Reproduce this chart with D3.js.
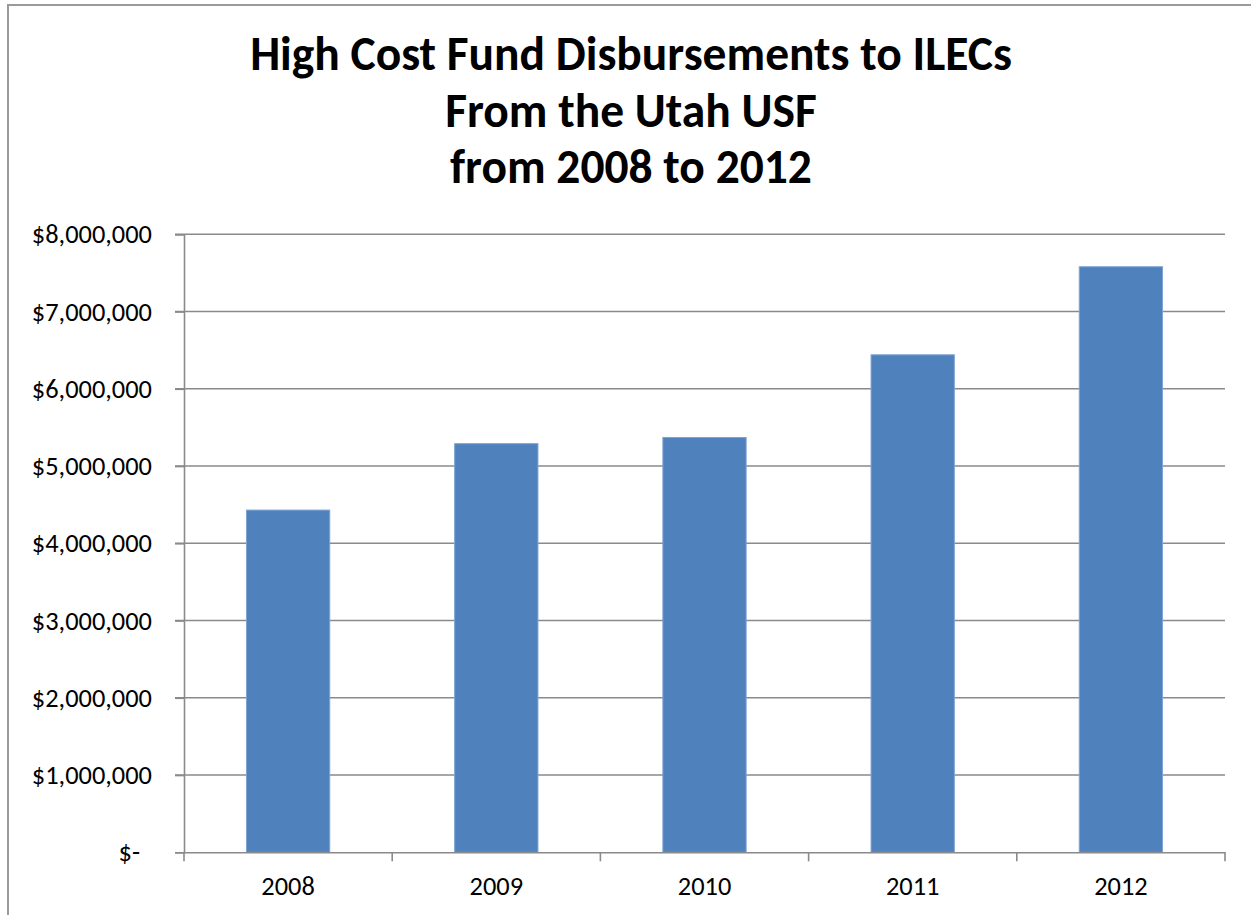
<!DOCTYPE html>
<html>
<head>
<meta charset="utf-8">
<script src="https://cdn.jsdelivr.net/npm/d3@7"></script>
<style>
  html, body { margin: 0; padding: 0; background: #fff; }
  svg { display: block; }
</style>
</head>
<body>
<svg id="chart" width="1251" height="915"></svg>
<script>
const titleLines = ["High Cost Fund Disbursements to ILECs", "From the Utah USF", "from 2008 to 2012"];
const categories = ["2008", "2009", "2010", "2011", "2012"];
const values = [4430000, 5290000, 5370000, 6440000, 7580000];
const yTicks = [0, 1000000, 2000000, 3000000, 4000000, 5000000, 6000000, 7000000, 8000000];

const svg = d3.select("#chart");
const W = 1251, H = 915;
const m = { left: 184, right: 1225, top: 234.3, bottom: 852.3 };
const font = "Carlito, Lato, 'Open Sans', sans-serif";

svg.append("rect").attr("width", W).attr("height", H).attr("fill", "#fff");
// outer chart border
svg.append("rect")
  .attr("x", 8).attr("y", 5).attr("width", W + 20).attr("height", H + 20)
  .attr("fill", "none").attr("stroke", "#9a9a9a").attr("stroke-width", 2);

const x = d3.scaleBand().domain(categories).range([m.left, m.right]).paddingInner(0.6).paddingOuter(0.3);
const y = d3.scaleLinear().domain([0, 8000000]).range([m.bottom, m.top]);

// gridlines
svg.append("g").selectAll("line").data(yTicks.filter(d => d > 0)).join("line")
  .attr("x1", m.left - 9).attr("x2", m.right)
  .attr("y1", d => y(d)).attr("y2", d => y(d))
  .attr("stroke", "#8a8a8a").attr("stroke-width", 1.6);

// bars
svg.append("g").selectAll("rect").data(values).join("rect")
  .attr("x", (d, i) => x(categories[i]))
  .attr("y", d => y(d))
  .attr("width", x.bandwidth())
  .attr("height", d => y(0) - y(d))
  .attr("fill", "#4f81bd")
  .attr("stroke", "#7ea3d3").attr("stroke-width", 1);

// y axis
const fmt = d => d === 0 ? "$-" : "$" + d3.format(",")(d);
const yAxis = svg.append("g").attr("transform", `translate(${m.left},0)`)
  .call(d3.axisLeft(y).tickValues(yTicks).tickFormat(fmt).tickSize(9).tickPadding(23));
yAxis.select(".domain").attr("stroke", "#8a8a8a").attr("stroke-width", 1.6);
yAxis.selectAll(".tick line").attr("stroke", "#8a8a8a").attr("stroke-width", 1.6);
yAxis.selectAll(".tick text")
  .attr("font-family", font).attr("font-size", 26.4).attr("fill", "#000")
  .attr("dy", "0.32em")
  .attr("dx", d => d === 0 ? -12 : 0);

// x axis
const xAxis = svg.append("g").attr("transform", `translate(0,${m.bottom})`)
  .call(d3.axisBottom(x).tickSize(0).tickPadding(24));
xAxis.select(".domain").attr("stroke", "#8a8a8a").attr("stroke-width", 1.6);
xAxis.selectAll(".tick text")
  .attr("font-family", font).attr("font-size", 26.4).attr("fill", "#000");
// category boundary ticks
const bounds = d3.range(categories.length + 1).map(i => m.left + i * (m.right - m.left) / categories.length);
xAxis.append("g").selectAll("line").data(bounds).join("line")
  .attr("x1", d => d).attr("x2", d => d).attr("y1", 0).attr("y2", 9)
  .attr("stroke", "#8a8a8a").attr("stroke-width", 1.6);

// title
svg.append("g").selectAll("text").data(titleLines).join("text")
  .attr("x", 631).attr("y", (d, i) => 70 + i * 56.5)
  .attr("text-anchor", "middle")
  .attr("font-family", font).attr("font-weight", "bold").attr("font-size", 47.5)
  .attr("fill", "#000")
  .text(d => d);
</script>
</body>
</html>
